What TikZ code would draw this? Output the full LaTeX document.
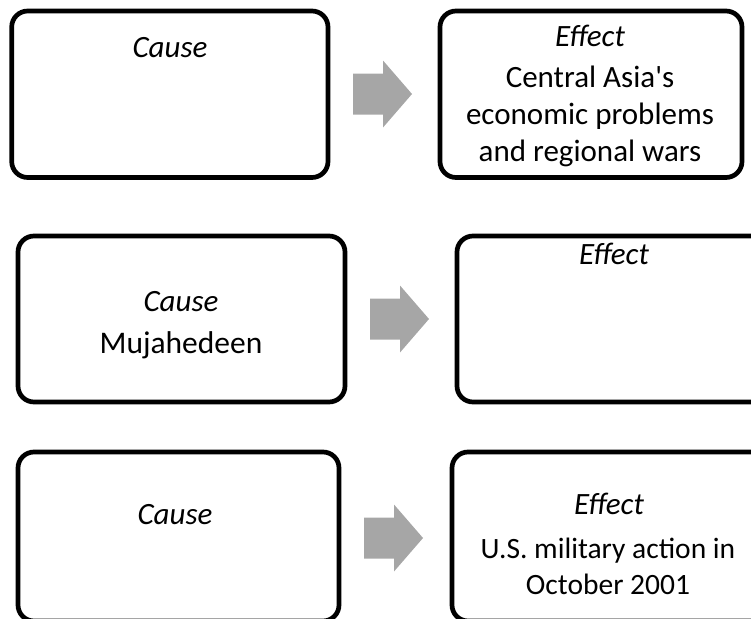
\documentclass[tikz,border=0pt]{standalone}
\usepackage{fontspec}
\setmainfont{Carlito}[Ligatures=TeXOff]
\begin{document}
\begin{tikzpicture}[x=1pt,y=-1pt,
  box/.style={draw=black,line width=4.7pt,rounded corners=16pt},
  lbl/.style={anchor=base,inner sep=0pt,font=\fontsize{31}{37}\selectfont\itshape},
  txt/.style={anchor=base,inner sep=0pt,align=center,font=\fontsize{31}{37}\selectfont},
  blockarrow/.style={fill=arrowgray,draw=none}]
\definecolor{arrowgray}{HTML}{A6A6A6}
\useasboundingbox (0,0) rectangle (751,618);
\clip (0,0) rectangle (751,618);
% boxes
\draw[box] (11.7,11) rectangle (328,177.5);
\draw[box] (440,11) rectangle (742,177.5);
\draw[box] (18,236) rectangle (345,402);
\draw[box] (457,236) rectangle (780,402);
\draw[box] (18,452) rectangle (339,621);
\draw[box] (452,452) rectangle (780,621);
% arrows
\coordinate (a1) at (353,94);
\coordinate (a2) at (370,319);
\coordinate (a3) at (364,538);
\foreach \a in {a1,a2,a3}{
  \fill[blockarrow] (\a) ++(0,-20.5) -- ++(30,0) -- ++(0,-13) -- ++(29,33.5) -- ++(-29,33.5) -- ++(0,-13) -- ++(-30,0) -- cycle;
}
% texts
\node[lbl] (c1) at (170,57) {Cause};
\node[lbl] (e1) at (590,47) {Effect};
\node[txt] (e1t) at (590,161) {Central Asia's\\economic problems\\and regional wars};
\node[lbl] (c2) at (181,311) {Cause};
\node[txt,font=\fontsize{31.5}{37}\selectfont] (c2t) at (181,353) {Mujahedeen};
\node[lbl] (e2) at (614,264) {Effect};
\node[lbl] (c3) at (175,524) {Cause};
\node[lbl] (e3) at (609,514) {Effect};
\node[txt,font=\fontsize{29.5}{36}\selectfont] (e3t) at (608,594) {U.S. military action in\\October 2001};
\end{tikzpicture}
\end{document}
